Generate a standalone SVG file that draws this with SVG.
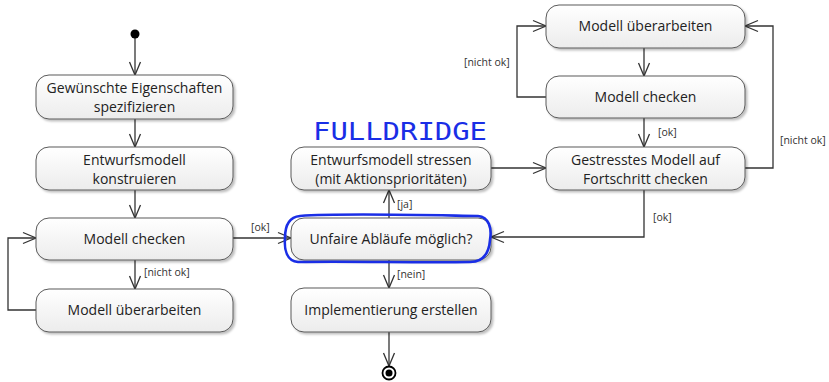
<svg xmlns="http://www.w3.org/2000/svg" width="829" height="382" viewBox="0 0 829 382">
  <defs>
    <linearGradient id="nodeFill" x1="0" y1="0" x2="0" y2="1">
      <stop offset="0" stop-color="#ffffff"/>
      <stop offset="1" stop-color="#ececec"/>
    </linearGradient>
    <filter id="shadow" x="-10%" y="-20%" width="125%" height="150%">
      <feDropShadow dx="2" dy="2" stdDeviation="1.2" flood-color="#000" flood-opacity="0.25"/>
    </filter>
    <marker id="open" markerUnits="userSpaceOnUse" markerWidth="16" markerHeight="16" viewBox="0 0 16 16" refX="14" refY="8" orient="auto">
      <path d="M1,2.5 L14,8 L1,13.5" fill="none" stroke="#333" stroke-width="1.3"/>
    </marker>
  </defs>
  <style>
    .node rect { fill: url(#nodeFill); stroke: #5a5a5a; stroke-width: 1; filter: url(#shadow); }
    .node text { font-family: "Open Sans", "Liberation Sans", sans-serif; font-size: 14px; fill: #222; text-anchor: middle; }
    .edge { fill: none; stroke: #333; stroke-width: 1.3; marker-end: url(#open); }
    .lbl { font-family: "Open Sans", "Liberation Sans", sans-serif; font-size: 10.5px; fill: #333; }
  </style>

  <!-- connectors -->
  <g id="connectors">
    <path class="edge" d="M135,34 V75"/>
    <path class="edge" d="M135,119 V147"/>
    <path class="edge" d="M135,190 V218"/>
    <path class="edge" d="M135,260 V289"/>
    <path class="edge" d="M36,310 H8 V238 H36"/>
    <path class="edge" d="M233,238 H291"/>
    <path class="edge" d="M389,218 V190"/>
    <path class="edge" d="M389,260 V288"/>
    <path class="edge" d="M389,332 V366"/>
    <path class="edge" d="M491,168 H546"/>
    <path class="edge" d="M644,48 V76"/>
    <path class="edge" d="M644,118 V147"/>
    <path class="edge" d="M546,97 H517 V26 H546"/>
    <path class="edge" d="M745,168 H773 V26 H745"/>
    <path class="edge" d="M644,190 V237 H491"/>
    <text class="lbl" x="251" y="231">[ok]</text>
    <text class="lbl" x="144" y="276">[nicht ok]</text>
    <text class="lbl" x="397" y="208">[ja]</text>
    <text class="lbl" x="397" y="278">[nein]</text>
    <text class="lbl" x="464" y="66">[nicht ok]</text>
    <text class="lbl" x="658" y="136">[ok]</text>
    <text class="lbl" x="780" y="144">[nicht ok]</text>
    <text class="lbl" x="653" y="221">[ok]</text>
  </g>

  <!-- start and end -->
  <g id="start"><circle cx="135" cy="34" r="4.5" fill="#000"/></g>
  <g id="end">
    <circle cx="389" cy="373" r="6.5" fill="#fff" stroke="#000" stroke-width="1.8"/>
    <circle cx="389" cy="373" r="3.5" fill="#000"/>
  </g>

  <!-- left column -->
  <g id="spezifizieren" class="node">
    <rect x="36" y="75" width="197" height="44" rx="13"/>
    <text x="134.5" y="93">Gewünschte Eigenschaften</text>
    <text x="134.5" y="112">spezifizieren</text>
  </g>
  <g id="konstruieren" class="node">
    <rect x="36" y="147" width="197" height="43" rx="13"/>
    <text x="134.5" y="165">Entwurfsmodell</text>
    <text x="134.5" y="184">konstruieren</text>
  </g>
  <g id="checken1" class="node">
    <rect x="36" y="218" width="197" height="42" rx="13"/>
    <text x="134.5" y="244">Modell checken</text>
  </g>
  <g id="ueberarbeiten1" class="node">
    <rect x="36" y="289" width="197" height="43" rx="13"/>
    <text x="134.5" y="315">Modell überarbeiten</text>
  </g>

  <!-- middle column -->
  <g id="stressen" class="node">
    <rect x="291" y="147" width="200" height="43" rx="13"/>
    <text x="391" y="165">Entwurfsmodell stressen</text>
    <text x="391" y="184">(mit Aktionsprioritäten)</text>
  </g>
  <g id="unfair" class="node">
    <rect x="291" y="218" width="200" height="42" rx="13"/>
    <text x="391" y="244">Unfaire Abläufe möglich?</text>
  </g>
  <g id="implementierung" class="node">
    <rect x="291" y="288" width="200" height="44" rx="13"/>
    <text x="391" y="315">Implementierung erstellen</text>
  </g>

  <!-- right column -->
  <g id="ueberarbeiten2" class="node">
    <rect x="546" y="5" width="199" height="43" rx="13"/>
    <text x="645.5" y="31">Modell überarbeiten</text>
  </g>
  <g id="checken2" class="node">
    <rect x="546" y="76" width="199" height="42" rx="13"/>
    <text x="645.5" y="102">Modell checken</text>
  </g>
  <g id="fortschritt" class="node">
    <rect x="546" y="147" width="199" height="43" rx="13"/>
    <text x="645.5" y="165">Gestresstes Modell auf</text>
    <text x="645.5" y="184">Fortschritt checken</text>
  </g>

  <!-- handwritten blue annotation -->
  <g id="annotation">
    <text x="313" y="140" textLength="174" lengthAdjust="spacingAndGlyphs" font-family="DejaVu Sans Mono, monospace" font-size="24" fill="#1a2ee6">FULLDRIDGE</text>
    <path d="M300,216 C340,213 420,215 478,216 C489,217 492,228 490,240 C489,253 484,262 470,262 C420,263 350,261 298,262 C287,261 284,250 285,238 C285,226 289,217 300,216 Z" fill="none" stroke="#1a2ee6" stroke-width="2.6" stroke-linejoin="round"/>
  </g>
</svg>
